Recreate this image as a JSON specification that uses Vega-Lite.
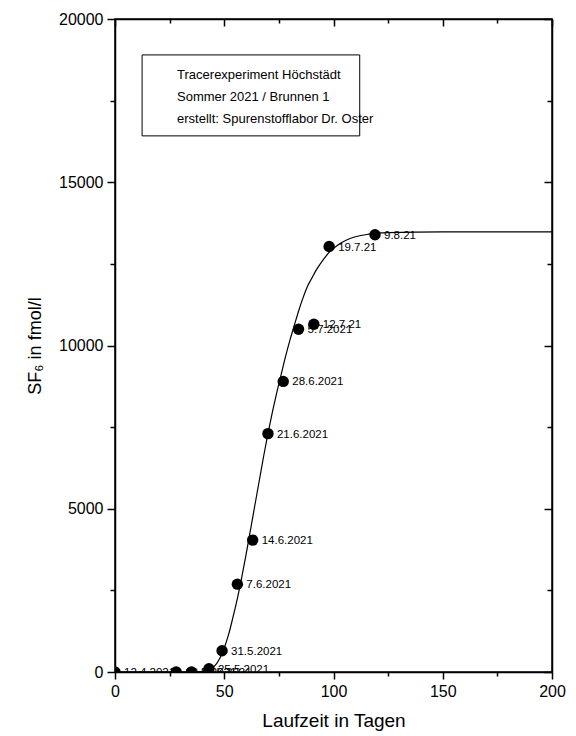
{
  "$schema": "https://vega.github.io/schema/vega-lite/v6.json",
  "width": 437,
  "height": 653,
  "autosize": "none",
  "padding": {"left": 115, "top": 19, "right": 24, "bottom": 64},
  "background": "white",
  "config": {
    "view": {"stroke": "black", "strokeWidth": 1.5},
    "font": "Liberation Sans",
    "axis": {
      "grid": false,
      "domainColor": "black",
      "domainWidth": 1.5,
      "tickColor": "black",
      "tickWidth": 1.5,
      "labelColor": "black",
      "labelFont": "Liberation Sans",
      "labelFontSize": 16,
      "titleFont": "Liberation Sans",
      "titleColor": "black",
      "titleFontWeight": "normal"
    }
  },
  "datasets": {
    "pts": [
      {"tage": 0, "sf6": 0, "datum": "12.4.2021"},
      {"tage": 28, "sf6": 0, "datum": "10.5.2021"},
      {"tage": 35, "sf6": 0, "datum": "17.5.2021"},
      {"tage": 43, "sf6": 100, "datum": "25.5.2021"},
      {"tage": 49, "sf6": 650, "datum": "31.5.2021"},
      {"tage": 56, "sf6": 2690, "datum": "7.6.2021"},
      {"tage": 63, "sf6": 4040, "datum": "14.6.2021"},
      {"tage": 70, "sf6": 7300, "datum": "21.6.2021"},
      {"tage": 77, "sf6": 8900, "datum": "28.6.2021"},
      {"tage": 84, "sf6": 10500, "datum": "5.7.2021"},
      {"tage": 91, "sf6": 10650, "datum": "12.7.21"},
      {"tage": 98, "sf6": 13030, "datum": "19.7.21"},
      {"tage": 119, "sf6": 13390, "datum": "9.8.21"}
    ],
    "fit": [
      {"tage": 0, "sf6": 0},
      {"tage": 30, "sf6": 0},
      {"tage": 38, "sf6": 5},
      {"tage": 42, "sf6": 40},
      {"tage": 45, "sf6": 140},
      {"tage": 48, "sf6": 420},
      {"tage": 50, "sf6": 735},
      {"tage": 52, "sf6": 1150},
      {"tage": 54, "sf6": 1680},
      {"tage": 56, "sf6": 2250},
      {"tage": 58, "sf6": 2900},
      {"tage": 60, "sf6": 3600},
      {"tage": 62, "sf6": 4350},
      {"tage": 64, "sf6": 5100},
      {"tage": 66, "sf6": 5850},
      {"tage": 68, "sf6": 6600},
      {"tage": 70, "sf6": 7300},
      {"tage": 72, "sf6": 7950},
      {"tage": 74, "sf6": 8550},
      {"tage": 76, "sf6": 9100},
      {"tage": 78, "sf6": 9650},
      {"tage": 80, "sf6": 10150},
      {"tage": 82, "sf6": 10600},
      {"tage": 84, "sf6": 11050},
      {"tage": 86, "sf6": 11450},
      {"tage": 88, "sf6": 11800},
      {"tage": 90, "sf6": 12050},
      {"tage": 92, "sf6": 12300},
      {"tage": 95, "sf6": 12600},
      {"tage": 98, "sf6": 12850},
      {"tage": 102, "sf6": 13080},
      {"tage": 106, "sf6": 13230},
      {"tage": 110, "sf6": 13330},
      {"tage": 116, "sf6": 13410},
      {"tage": 125, "sf6": 13455},
      {"tage": 150, "sf6": 13478},
      {"tage": 200, "sf6": 13480}
    ],
    "box": [
      {"x1": 12.4, "x2": 112, "y1": 18900, "y2": 16420}
    ],
    "info": [
      {"tage": 28.4, "sf6": 18285, "text": "Tracerexperiment Höchstädt"},
      {"tage": 28.4, "sf6": 17610, "text": "Sommer 2021 / Brunnen 1"},
      {"tage": 28.4, "sf6": 16940, "text": "erstellt: Spurenstofflabor Dr. Oster"}
    ]
  },
  "resolve": {"axis": {"x": "independent", "y": "independent"}},
  "layer": [
    {
      "data": {"name": "fit"},
      "mark": {"type": "line", "color": "black", "strokeWidth": 1.2, "interpolate": "monotone", "clip": true},
      "encoding": {
        "x": {
          "field": "tage", "type": "quantitative",
          "scale": {"domain": [0, 200], "nice": false, "zero": false},
          "axis": {
            "orient": "bottom",
            "title": "Laufzeit in Tagen",
            "titleFontSize": 19,
            "titlePadding": 12,
            "values": [0, 25, 50, 75, 100, 125, 150, 175, 200],
            "labelExpr": "datum.value % 50 === 0 ? datum.label : ''",
            "tickSize": {"condition": {"test": "datum.value % 50 === 0", "value": 7}, "value": 4},
            "labelPadding": 4,
            "labelFlush": false,
            "labelOverlap": false
          }
        },
        "y": {
          "field": "sf6", "type": "quantitative",
          "scale": {"domain": [0, 20000], "nice": false},
          "axis": {
            "orient": "left",
            "title": "SF₆ in fmol/l",
            "titleFontSize": 18,
            "titlePadding": 14,
            "values": [0, 2500, 5000, 7500, 10000, 12500, 15000, 17500, 20000],
            "labelExpr": "datum.value % 5000 === 0 ? datum.label : ''",
            "format": "d",
            "tickSize": {"condition": {"test": "datum.value % 5000 === 0", "value": 8}, "value": 5},
            "labelPadding": 4,
            "labelFlush": false,
            "labelOverlap": false
          }
        }
      }
    },
    {
      "data": {"name": "pts"},
      "mark": {"type": "text", "align": "left", "baseline": "middle", "dx": 9, "dy": 1, "fontSize": 11.5, "font": "Liberation Sans", "color": "black", "clip": true},
      "encoding": {
        "x": {"field": "tage", "type": "quantitative", "axis": null},
        "y": {"field": "sf6", "type": "quantitative", "axis": null},
        "text": {"field": "datum"}
      }
    },
    {
      "data": {"name": "pts"},
      "mark": {"type": "circle", "color": "black", "opacity": 1, "size": 130, "clip": true},
      "encoding": {
        "x": {
          "field": "tage", "type": "quantitative",
          "axis": {
            "orient": "top",
            "title": null,
            "labels": false,
            "values": [0, 25, 50, 75, 100, 125, 150, 175, 200],
            "tickSize": {"condition": {"test": "datum.value % 50 === 0", "value": -7}, "value": -4}
          }
        },
        "y": {
          "field": "sf6", "type": "quantitative",
          "axis": {
            "orient": "right",
            "title": null,
            "labels": false,
            "values": [0, 2500, 5000, 7500, 10000, 12500, 15000, 17500, 20000],
            "tickSize": {"condition": {"test": "datum.value % 5000 === 0", "value": -8}, "value": -5}
          }
        }
      }
    },
    {
      "data": {"name": "box"},
      "mark": {"type": "rect", "fill": "white", "stroke": "black", "strokeWidth": 1},
      "encoding": {
        "x": {"field": "x1", "type": "quantitative", "axis": null},
        "x2": {"field": "x2"},
        "y": {"field": "y1", "type": "quantitative", "axis": null},
        "y2": {"field": "y2"}
      }
    },
    {
      "data": {"name": "info"},
      "mark": {"type": "text", "align": "left", "baseline": "middle", "fontSize": 13, "font": "Liberation Sans", "color": "black"},
      "encoding": {
        "x": {"field": "tage", "type": "quantitative", "axis": null},
        "y": {"field": "sf6", "type": "quantitative", "axis": null},
        "text": {"field": "text"}
      }
    }
  ]
}
